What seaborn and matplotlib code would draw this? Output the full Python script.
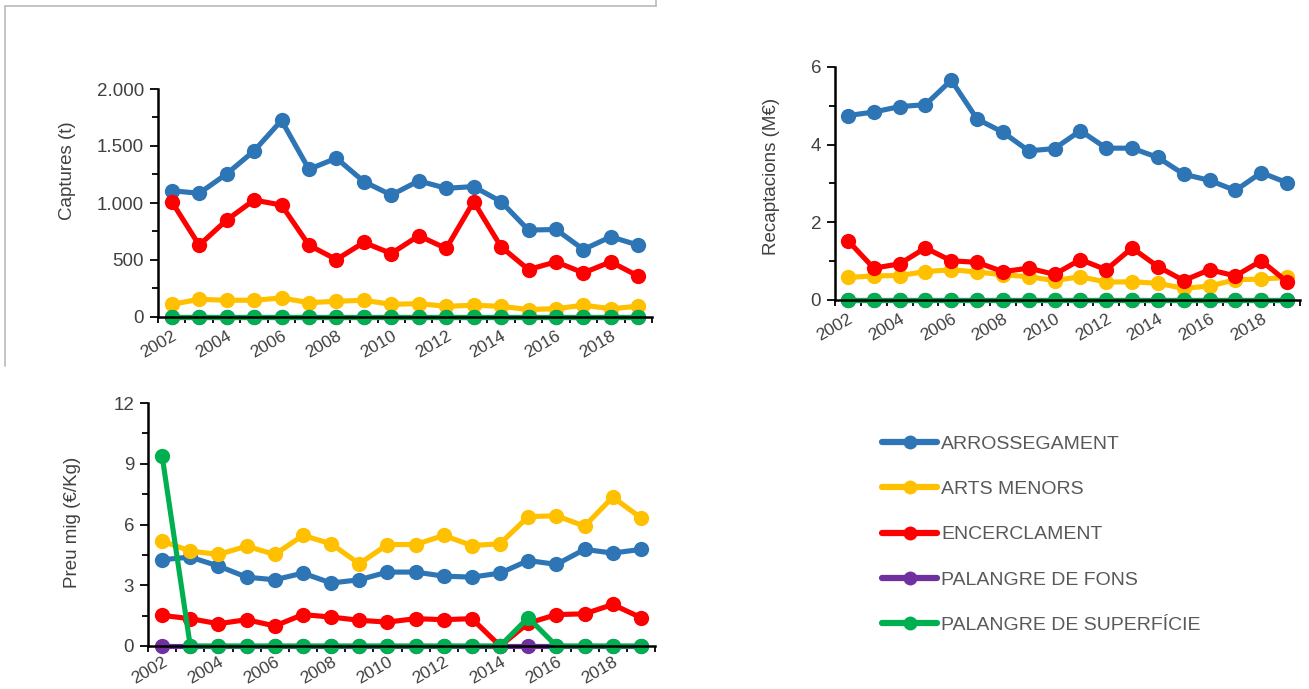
import numpy as np
import pandas as pd
import matplotlib
matplotlib.use("Agg")
import matplotlib.pyplot as plt
from matplotlib.lines import Line2D
from matplotlib.ticker import FuncFormatter, MultipleLocator
import seaborn as sns

years = list(range(2002, 2020))
series = ["ARROSSEGAMENT", "ARTS MENORS", "ENCERCLAMENT", "PALANGRE DE FONS", "PALANGRE DE SUPERFÍCIE"]
colors = ["#2E75B6", "#FFC000", "#FF0000", "#7030A0", "#00B050"]

# Captures (t)
cap_arr = [1108, 1085, 1255, 1457, 1724, 1296, 1393, 1188, 1070, 1194, 1129, 1144, 1012, 762, 768, 592, 704, 630]
cap_arts = [111, 155, 147, 147, 167, 126, 138, 147, 111, 117, 94, 103, 94, 65, 73, 103, 73, 94]
cap_enc = [1012, 630, 850, 1026, 982, 630, 504, 654, 557, 713, 601, 1012, 616, 416, 484, 387, 484, 358]
cap_pfons = [0] * 18
cap_psup = [0] * 18

# Recaptacions (M€)
rec_arr = [4.75, 4.84, 4.98, 5.03, 5.66, 4.66, 4.32, 3.84, 3.90, 4.36, 3.91, 3.91, 3.67, 3.24, 3.08, 2.82, 3.28, 3.02]
rec_arts = [0.58, 0.62, 0.63, 0.73, 0.78, 0.72, 0.65, 0.60, 0.50, 0.60, 0.46, 0.47, 0.43, 0.30, 0.36, 0.52, 0.54, 0.58]
rec_enc = [1.53, 0.82, 0.93, 1.34, 1.01, 0.97, 0.73, 0.82, 0.66, 1.04, 0.78, 1.34, 0.86, 0.50, 0.78, 0.62, 1.01, 0.47]
rec_pfons = [0] * 18
rec_psup = [0] * 18

# Preu mig (€/Kg)
preu_arr = [4.26, 4.39, 3.95, 3.40, 3.27, 3.60, 3.11, 3.27, 3.65, 3.65, 3.45, 3.40, 3.60, 4.22, 4.03, 4.77, 4.59, 4.77]
preu_arts = [5.18, 4.69, 4.52, 4.93, 4.52, 5.46, 5.05, 4.06, 5.01, 5.01, 5.46, 4.96, 5.05, 6.39, 6.43, 5.92, 7.35, 6.33]
preu_enc = [1.51, 1.35, 1.10, 1.30, 0.99, 1.55, 1.43, 1.27, 1.18, 1.35, 1.30, 1.35, 0, 1.13, 1.55, 1.59, 2.05, 1.40]
preu_pfons = [0] * 18
preu_psup = [9.40, 0, 0, 0, 0, 0, 0, 0, 0, 0, 0, 0, 0, 1.40, 0, 0, 0, 0]


def long_df(vals):
    rows = []
    for name, v in zip(series, vals):
        for y, val in zip(years, v):
            rows.append((y, val, name))
    return pd.DataFrame(rows, columns=["any", "valor", "serie"])


sns.set_style("white")
plt.rcParams["font.family"] = ["Liberation Sans", "DejaVu Sans"]
tick_color = "#404040"

fig = plt.figure(figsize=(13.09, 6.89), dpi=100)
W, H = 1309, 689


def px_axes(l, t, r, b):
    return fig.add_axes([l / W, 1 - b / H, (r - l) / W, (b - t) / H])


def draw(ax, vals, ymax, ystep, ylabel, label_pos, fmt=None, xpad=8):
    df = long_df(vals)
    sns.lineplot(data=df, x="any", y="valor", hue="serie", hue_order=series,
                 palette=colors, marker="o", markersize=11, markeredgewidth=0,
                 linewidth=3.7, legend=False, ax=ax)
    for ln in ax.lines:
        ln.set_clip_on(False)
    ax.set_xlim(2001.5, 2019.5)
    ax.set_ylim(0, ymax)
    ax.set_xticks(years[::2])
    ax.set_xticks(np.arange(2001.5, 2020, 1), minor=True)
    ax.yaxis.set_major_locator(MultipleLocator(ystep))
    ax.yaxis.set_minor_locator(MultipleLocator(ystep / 2))
    if fmt:
        ax.yaxis.set_major_formatter(FuncFormatter(fmt))
    ax.tick_params(axis="x", which="major", length=0, pad=xpad, labelsize=12.5, labelcolor=tick_color)
    ax.tick_params(axis="x", which="minor", length=4, width=1.3, color="black", direction="out", bottom=True)
    ax.tick_params(axis="y", which="major", length=6, width=1.3, color="black", direction="out", left=True,
                   labelsize=13.5, labelcolor=tick_color, pad=4)
    ax.tick_params(axis="y", which="minor", length=4, width=1.3, color="black", direction="out", left=True)
    for lab in ax.get_xticklabels():
        lab.set_rotation(30)
        lab.set_ha("right")
        lab.set_va("top")
        lab.set_rotation_mode("anchor")
    for s in ["top", "right"]:
        ax.spines[s].set_visible(False)
    for s in ["left", "bottom"]:
        ax.spines[s].set_color("black")
        ax.spines[s].set_linewidth(1.8)
    ax.set_xlabel("")
    ax.set_ylabel(ylabel, fontsize=13.5, color=tick_color)
    ax.yaxis.set_label_coords(*label_pos)
    ax.set_facecolor("none")


ax1 = px_axes(158, 89, 652, 317)
draw(ax1, [cap_arr, cap_arts, cap_enc, cap_pfons, cap_psup], 2000, 500, "Captures (t)",
     (-82 / 494, 0.64), lambda v, p: f"{int(v):,}".replace(",", "."))

ax2 = px_axes(835, 67, 1300, 300)
draw(ax2, [rec_arr, rec_arts, rec_enc, rec_pfons, rec_psup], 6, 2, "Recaptacions (M€)",
     (-55 / 465, 0.53))

ax3 = px_axes(148, 403, 655, 646)
draw(ax3, [preu_arr, preu_arts, preu_enc, preu_pfons, preu_psup], 12, 3, "Preu mig (€/Kg)",
     (-67 / 507, 0.51), xpad=6)

# legend
handles = [Line2D([0], [0], color=c, lw=4.5, marker="o", markersize=10, markeredgewidth=0,
                  solid_capstyle="round") for c in colors]
leg = fig.legend(handles, series, loc="upper left", bbox_to_anchor=(882 / W, 1 - 435 / H),
                 frameon=False, fontsize=14, handlelength=2.85, handletextpad=0.2,
                 labelspacing=1.43, borderpad=0, borderaxespad=0)
for t in leg.get_texts():
    t.set_color("#595959")

# frame of the first chart object
frame_c = "#BFBFBF"
fig.add_artist(Line2D([5 / W, 656 / W], [1 - 6 / H, 1 - 6 / H], color=frame_c, lw=1.3))
fig.add_artist(Line2D([656 / W, 656 / W], [1, 1 - 6 / H], color=frame_c, lw=1.3))
fig.add_artist(Line2D([5 / W, 5 / W], [1 - 6 / H, 1 - 366 / H], color=frame_c, lw=1.3))

fig.savefig("out.png", dpi=100, facecolor="white")
